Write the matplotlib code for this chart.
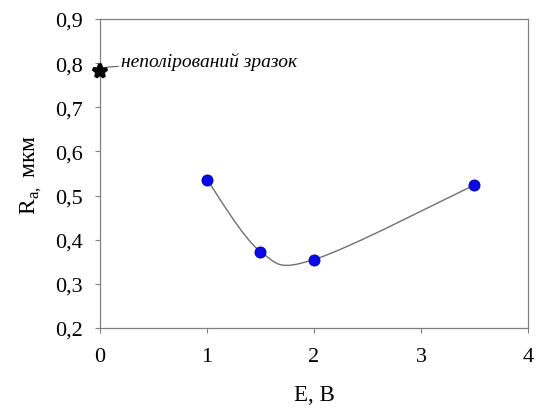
import numpy as np
import matplotlib
matplotlib.use('Agg')
import matplotlib.pyplot as plt
from matplotlib.path import Path
from matplotlib.patches import PathPatch

plt.rcParams['font.family'] = ['Liberation Serif', 'DejaVu Serif']
plt.rcParams['mathtext.fontset'] = 'custom'
plt.rcParams['mathtext.rm'] = 'Liberation Serif'

# дані
E_volt = [1.0, 1.5, 2.0, 3.5]
Ra_um = [0.536, 0.373, 0.355, 0.524]
E_raw = [0.0]
Ra_raw = [0.783]
x_ticks = [0, 1, 2, 3, 4]
y_ticks = [0.2, 0.3, 0.4, 0.5, 0.6, 0.7, 0.8, 0.9]


def smooth_path(xs, ys):
    # згладжена крива як в Excel (Безьє через сусідні точки)
    p = np.column_stack([xs, ys])
    n = len(p)
    verts = [p[0]]
    codes = [Path.MOVETO]
    for i in range(n - 1):
        prev = p[i - 1] if i > 0 else p[i]
        nxt = p[i + 2] if i + 2 < n else p[i + 1]
        c1 = p[i] + (p[i + 1] - prev) / 6
        c2 = p[i + 1] - (nxt - p[i]) / 6
        verts += [c1, c2, p[i + 1]]
        codes += [Path.CURVE4] * 3
    return Path(verts, codes)


fig = plt.figure(figsize=(5.37, 4.10), dpi=100)
ax = fig.add_axes([0.1862, 0.1976, 0.797, 0.7536])

ax.add_patch(PathPatch(smooth_path(E_volt, Ra_um), facecolor='none',
                       edgecolor='#707070', linewidth=1.0, zorder=2))
ax.plot(E_volt, Ra_um, 'o', color='#0a0ae6', markeredgecolor='#0000a0',
        markersize=8, markeredgewidth=0.6, zorder=3, clip_on=False)
ax.plot(E_raw, Ra_raw, marker='*', color='black', markersize=10,
        markeredgewidth=2.6, markeredgecolor='black', linestyle='none',
        zorder=4, clip_on=False)

ax.annotate('неполірований зразок', xy=(0.065, 0.791), xytext=(0.196, 0.806),
            fontsize=14, style='italic', va='center',
            arrowprops=dict(arrowstyle='-', color='#606060', lw=0.8,
                            shrinkA=0, shrinkB=0))

ax.set_xlim(0, 4)
ax.set_ylim(0.2, 0.9)
ax.set_xticks(x_ticks)
ax.set_yticks(y_ticks)
ax.set_xticklabels([str(v) for v in x_ticks])
ax.set_yticklabels([f'{v:.1f}'.replace('.', ',') for v in y_ticks])
ax.tick_params(axis='both', direction='out', length=3.5, width=0.8,
               color='#808080', labelsize=16)
ax.tick_params(axis='x', pad=10)
ax.tick_params(axis='y', pad=9)
for s in ax.spines.values():
    s.set_color('#808080')
    s.set_linewidth(0.9)

ax.set_xlabel('E, B', fontsize=16.5, labelpad=13)
ax.set_ylabel(r'R$_\mathregular{a,}$ мкм', fontsize=17, labelpad=8)

fig.savefig('out.png', dpi=100)
